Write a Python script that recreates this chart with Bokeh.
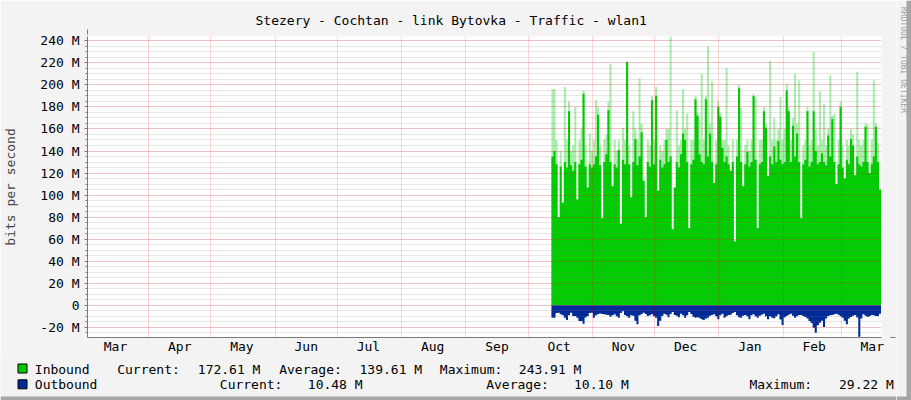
import numpy as np
import pandas as pd
from bokeh.plotting import figure
from bokeh.layouts import column, row
from bokeh.models import (Range1d, FixedTicker, DatetimeTickFormatter, Arrow, NormalHead)
from bokeh.core.properties import value
from bokeh.embed import file_html
from bokeh.resources import INLINE

TITLE = "Stezery - Cochtan - link Bytovka - Traffic - wlan1"
Y_LABEL = "bits per second"
WATERMARK = "RRDTOOL / TOBI OETIKER"

# daily samples (millions of bits per second), first sample starts here
first_day = "2013-10-12 06:00"
x_start = "2013-03-02 12:00"
x_end = "2014-03-20 11:00"

inbound = [
    135, 140, 128, 80, 126, 93, 130, 125, 176, 127,
    122, 130, 96, 128, 132, 192, 126, 107, 128, 125,
    128, 135, 173, 127, 79, 130, 137, 177, 130, 108,
    128, 125, 141, 74, 132, 128, 221, 128, 98, 130,
    151, 127, 135, 157, 113, 80, 130, 126, 186, 128,
    190, 104, 132, 125, 128, 150, 130, 135, 69, 107,
    130, 125, 137, 156, 150, 130, 70, 128, 132, 187,
    172, 137, 130, 128, 187, 135, 156, 130, 111, 128,
    180, 171, 143, 130, 135, 128, 122, 130, 58, 135,
    197, 130, 108, 128, 139, 126, 130, 190, 132, 70,
    128, 130, 176, 161, 117, 135, 128, 144, 130, 149,
    132, 128, 130, 195, 176, 130, 163, 135, 156, 130,
    79, 128, 132, 176, 126, 130, 176, 140, 128, 130,
    138, 130, 127, 154, 135, 169, 130, 110, 128, 180,
    125, 115, 132, 128, 151, 145, 118, 135, 128, 126,
    130, 162, 130, 120, 128, 135, 162, 130, 105,
]

inbound_peak = [
    196, 196, 150, 80, 140, 93, 198, 150, 185, 140,
    145, 180, 96, 150, 160, 195, 145, 107, 156, 140,
    150, 186, 180, 145, 79, 150, 155, 185, 219, 108,
    150, 140, 150, 74, 161, 150, 221, 145, 98, 176,
    160, 150, 206, 165, 113, 80, 150, 145, 190, 150,
    198, 104, 145, 140, 150, 160, 160, 243.91, 69, 107,
    177, 145, 150, 196, 160, 174, 70, 150, 150, 190,
    175, 150, 210, 150, 190, 235, 165, 203, 111, 150,
    185, 175, 150, 150, 215, 145, 122, 150, 58, 150,
    200, 179, 108, 145, 150, 140, 150, 192, 188, 70,
    150, 150, 180, 165, 117, 222, 150, 170, 150, 160,
    189, 150, 160, 201, 180, 150, 170, 210, 165, 204,
    79, 145, 150, 180, 145, 150, 230, 160, 145, 194,
    150, 183, 145, 160, 209, 172, 174, 110, 150, 185,
    145, 115, 150, 145, 160, 155, 118, 212, 150, 145,
    150, 165, 164, 120, 150, 204, 165, 147, 105,
]

outbound = [
    11.3, 11.3, 7.0, 6.7, 8.2, 9.0, 11.3, 13.3, 9.0, 6.7,
    9.8, 9.8, 11.3, 14.3, 14.3, 16.7, 11.0, 9.8, 7.0, 6.7,
    11.3, 9.0, 8.2, 7.4, 8.0, 8.2, 8.5, 8.9, 10.5, 9.0,
    8.2, 10.0, 11.3, 7.0, 5.5, 8.9, 10.0, 11.3, 9.0, 9.5,
    14.0, 17.3, 9.0, 8.2, 6.7, 8.0, 9.8, 9.0, 8.2, 10.0,
    11.3, 18.8, 14.0, 9.8, 7.7, 8.5, 10.8, 8.0, 6.1, 8.9,
    9.5, 10.8, 7.7, 9.0, 11.3, 9.0, 6.1, 8.0, 10.5, 11.3,
    10.8, 11.5, 12.6, 13.4, 12.0, 11.3, 9.5, 8.9, 8.2, 10.0,
    12.6, 9.0, 7.7, 11.3, 10.0, 8.9, 8.5, 7.0, 6.1, 9.0,
    10.8, 11.3, 9.5, 8.9, 10.0, 12.6, 9.0, 8.2, 10.0, 11.3,
    9.5, 8.5, 7.7, 10.0, 12.6, 10.0, 11.3, 11.8, 10.0, 8.2,
    13.0, 17.9, 11.0, 9.8, 8.5, 7.6, 9.5, 11.3, 10.0, 8.8,
    8.8, 9.8, 10.7, 12.0, 14.3, 16.0, 20.3, 24.9, 18.0, 15.8,
    14.0, 19.7, 12.0, 9.8, 9.0, 8.8, 8.2, 7.6, 8.5, 10.0,
    11.3, 14.0, 17.3, 12.0, 10.7, 9.5, 8.8, 11.0, 28.5, 12.0,
    8.2, 9.5, 10.7, 10.0, 8.8, 9.0, 9.8, 9.8, 7.6,
]

y_ticks = [-20, 0, 20, 40, 60, 80, 100, 120, 140, 160, 180, 200, 220, 240]
y_minor = list(range(-25, 245, 5))
y_min, y_max = -29.22, 243.91

legend_names = ["Inbound", "Outbound"]
legend_stats = [
    ["Current:", "172.61 M", "Average:", "139.61 M", "Maximum:", "243.91 M"],
    ["Current:", "10.48 M", "Average:", "10.10 M", "Maximum:", "29.22 M"],
]

IN_COLOR = "#00CC00"
OUT_COLOR = "#002A97"
BG = "#F3F3F3"
SHADE = "#A6A6A6"
FONT = "DejaVu Sans Mono"

# ---- geometry (page pixels) ----
TOTAL_W, TOTAL_H = 911, 400
SIDE_W = 15          # right-hand strip holding the watermark and the shade
MAIN_W = TOTAL_W - SIDE_W
MAIN_H = 356
LEG_H = TOTAL_H - MAIN_H
L, R, T, B = 80, MAIN_W - 881, 36, 19


def ms(ts):
    return pd.Timestamp(ts).value / 1e6


def no_align(fig):
    try:
        fig.frame_align = False
    except Exception:
        pass


edges = pd.date_range(first_day, periods=len(inbound) + 1, freq="D")
xs = np.repeat(edges.values, 2)[1:-1]
in_step = np.repeat(np.array(inbound, dtype=float), 2)
peak_step = np.repeat(np.array(inbound_peak, dtype=float), 2)
out_step = -np.repeat(np.array(outbound, dtype=float), 2)

p = figure(width=MAIN_W, height=MAIN_H, output_backend="svg", toolbar_location=None,
           x_axis_type="datetime",
           x_range=Range1d(pd.Timestamp(x_start), pd.Timestamp(x_end)),
           y_range=Range1d(y_min, y_max),
           min_border_left=L, min_border_right=R,
           min_border_top=T, min_border_bottom=B)
no_align(p)
p.background_fill_color = "#FFFFFF"
p.border_fill_color = BG
p.outline_line_color = None

p.title.text = TITLE
p.title.align = "left"
p.title.offset = 168
p.title.standoff = 17
p.title.text_font = FONT
p.title.text_font_size = "13px"
p.title.text_font_style = "normal"
p.title.text_color = "#000000"

r_peak = p.varea(x=xs, y1=0, y2=peak_step, fill_color=IN_COLOR, fill_alpha=0.33)
r_in = p.varea(x=xs, y1=0, y2=in_step, fill_color=IN_COLOR)
r_out = p.varea(x=xs, y1=out_step, y2=0, fill_color=OUT_COLOR)

# y axis
ya = p.yaxis[0]
ya.ticker = FixedTicker(ticks=y_ticks, minor_ticks=y_minor)
ya.major_label_overrides = {t: ("0" if t == 0 else f"{t} M") for t in y_ticks}
ya.major_label_text_font = FONT
ya.major_label_text_font_size = "13px"
ya.major_label_text_color = "#000000"
ya.major_label_standoff = 5
ya.axis_label = Y_LABEL
ya.axis_label_text_font = FONT
ya.axis_label_text_font_size = "13px"
ya.axis_label_text_font_style = "normal"
ya.axis_label_standoff = 19
ya.axis_line_color = "#7A7A7A"
ya.major_tick_line_color = "#7A7A7A"
ya.minor_tick_line_color = "#7A7A7A"
ya.major_tick_out = 3
ya.major_tick_in = 0
ya.minor_tick_out = 2
ya.minor_tick_in = 0

# x axis: month names centred in the months, grid on month starts
month_starts = pd.date_range("2013-04-01", "2014-03-01", freq="MS")
month_mids = pd.date_range("2013-03-01", "2014-03-01", freq="MS") + pd.Timedelta(days=15)
xa = p.xaxis[0]
xa.ticker = FixedTicker(ticks=[ms(t) for t in month_mids])
fmt = "%b"
xa.formatter = DatetimeTickFormatter(milliseconds=fmt, seconds=fmt, minsec=fmt, minutes=fmt,
                                     hourmin=fmt, hours=fmt, days=fmt, months=fmt, years=fmt)
xa.major_label_text_font = FONT
xa.major_label_text_font_size = "13px"
xa.major_label_text_color = "#000000"
xa.major_label_standoff = 1
xa.major_tick_out = 0
xa.major_tick_in = 0
xa.axis_line_color = "#7A7A7A"

p.xgrid.ticker = FixedTicker(ticks=[ms(t) for t in month_starts])
for g in (p.xgrid[0], p.ygrid[0]):
    g.level = "guide"
    g.grid_line_color = "#FF0000"
    g.grid_line_alpha = 0.33
    g.grid_line_dash = "1 1"
p.ygrid.minor_grid_line_color = "#808080"
p.ygrid.minor_grid_line_alpha = 0.38
p.ygrid.minor_grid_line_dash = "1 1"

# axis arrows
frame_w = MAIN_W - L - R
frame_h = MAIN_H - T - B
p.add_layout(Arrow(end=NormalHead(size=5, fill_color="#7F0000", line_color="#7F0000"),
                   x_start=0, y_start=frame_h, x_end=0, y_end=frame_h + 7,
                   start_units="screen", end_units="screen", line_color="#7A7A7A"))
p.add_layout(Arrow(end=NormalHead(size=5, fill_color="#7F0000", line_color="#7F0000"),
                   x_start=frame_w, y_start=0, x_end=frame_w + 7, y_end=0,
                   start_units="screen", end_units="screen", line_color="#7A7A7A"))


def pixel_fig(w, h, bg):
    f = figure(width=w, height=h, output_backend="svg", toolbar_location=None,
               x_range=Range1d(0, w), y_range=Range1d(h, 0),
               x_axis_location=None, y_axis_location=None,
               min_border=0, min_border_left=0, min_border_right=0,
               min_border_top=0, min_border_bottom=0)
    no_align(f)
    f.grid.visible = False
    f.outline_line_color = None
    f.background_fill_color = bg
    f.border_fill_color = bg
    return f


# ---- legend strip (page pixel coordinates) ----
lf = pixel_fig(MAIN_W, LEG_H, BG)
row_y = [12.5, 28.3]
swatch_x = 22
name_x = 34.3
stat_x = [
    [116.7, 197.3, 278.7, 359.0, 439.3, 518.3],
    [219.3, 307.3, 485.7, 573.5, 749.0, 838.5],
]
lf.rect(x=[swatch_x, swatch_x], y=[row_y[0] - 0.5, row_y[1] - 0.5], width=9, height=9,
        fill_color=[IN_COLOR, OUT_COLOR], line_color="#000000", line_width=1)
tx, ty, tt = [], [], []
for name, stats, xs_row, yy in zip(legend_names, legend_stats, stat_x, row_y):
    tx.append(name_x); ty.append(yy); tt.append(name)
    for s, fx in zip(stats, xs_row):
        tx.append(fx); ty.append(yy); tt.append(s)
lf.text(x=tx, y=ty, text=tt, text_font=value(FONT), text_font_size=value("13px"),
        text_color="#000000", text_baseline="middle", text_align="left")
lf.quad(left=[0], right=[MAIN_W], top=[LEG_H - 4], bottom=[LEG_H],
        fill_color=SHADE, line_color=None)

# ---- right strip: watermark and shade ----
sf = pixel_fig(SIDE_W, TOTAL_H, BG)
sf.quad(left=[SIDE_W - 5], right=[SIDE_W], top=[0], bottom=[TOTAL_H],
        fill_color=SHADE, line_color=None)
sf.quad(left=[0], right=[SIDE_W], top=[TOTAL_H - 4], bottom=[TOTAL_H],
        fill_color=SHADE, line_color=None)
sf.text(x=[6.7], y=[6.5], text=[WATERMARK], angle=-np.pi / 2,
        text_font=value(FONT), text_font_size=value("8px"), text_color="#A0A0A0",
        text_baseline="middle", text_align="left")

layout = row(column(p, lf, spacing=0), sf, spacing=0)
open("out.html", "w").write(file_html(layout, INLINE))
